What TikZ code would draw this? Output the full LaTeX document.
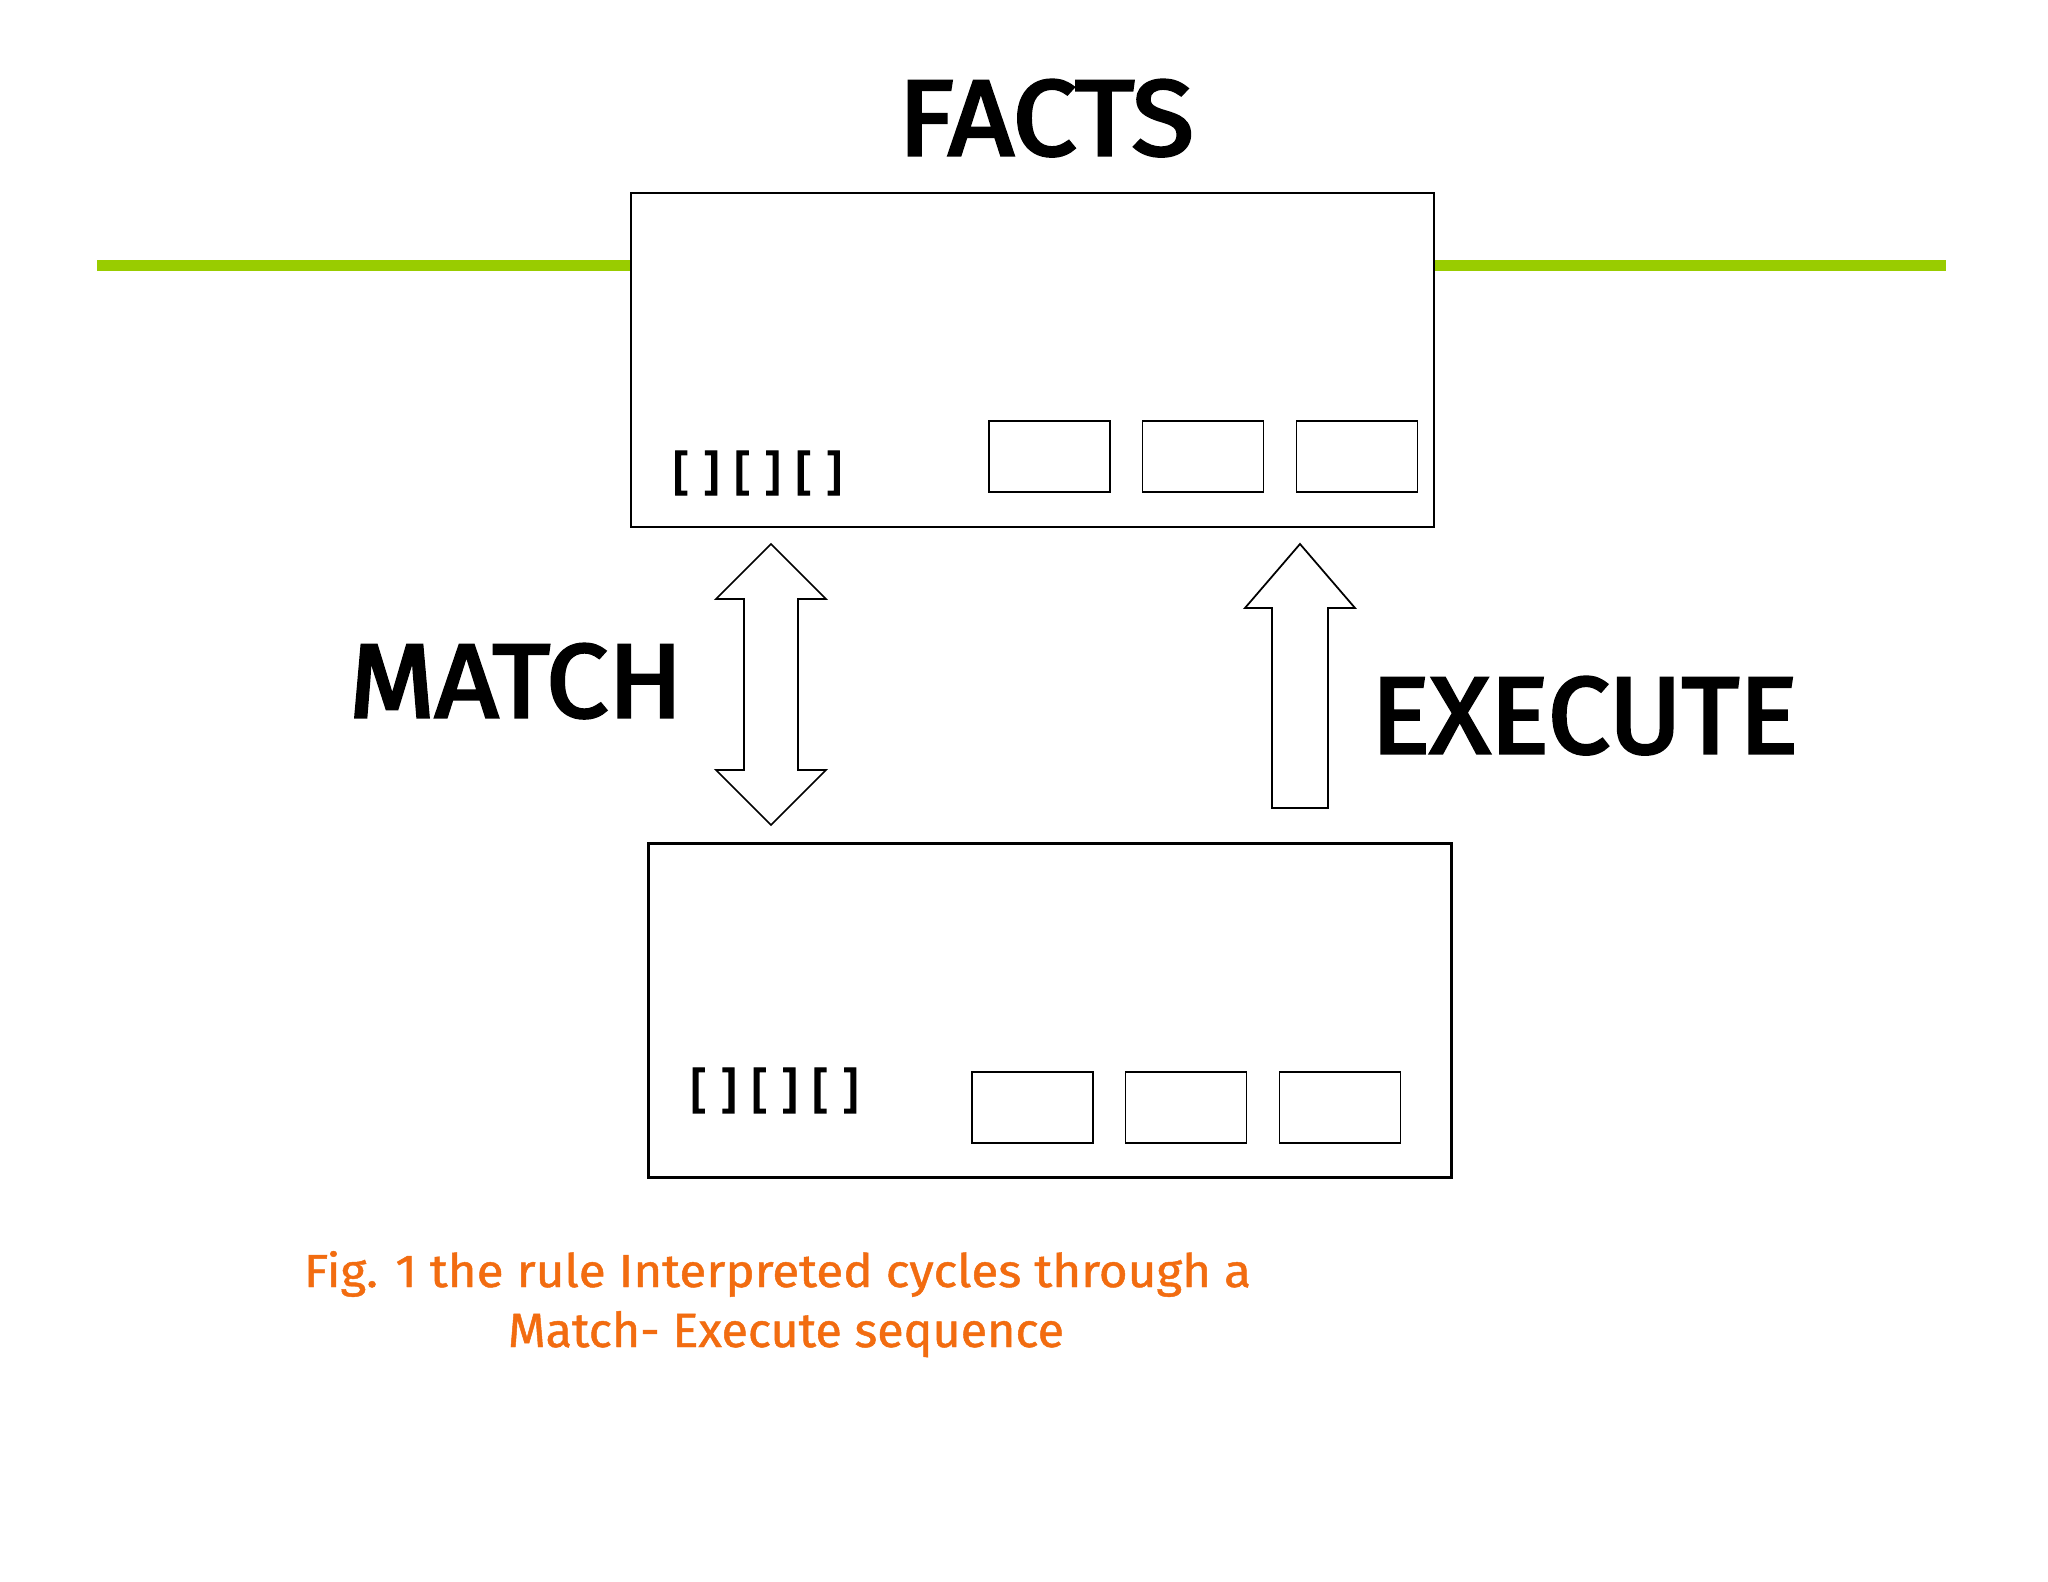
\documentclass[tikz,border=0pt]{standalone}
\usepackage{fontspec}
\setmainfont{Fira Sans}
\newfontfamily\labelfont[FakeBold=3]{Fira Sans}
\newfontfamily\captionfont[FakeBold=1]{Fira Sans}
\usetikzlibrary{calc}

\definecolor{rulegreen}{RGB}{153,204,0}
\definecolor{captionorange}{RGB}{242,108,16}

\tikzset{
  membox/.style={draw,fill=white,line width=0.6pt,inner sep=0pt,minimum width=8.03cm,minimum height=3.34cm},
  slot/.style={draw,line width=0.5pt,inner sep=0pt,minimum width=1.21cm,minimum height=0.71cm},
  blockarrow/.style={draw,fill=white,line width=0.5pt},
  biglabel/.style={inner sep=0pt,anchor=base,font=\labelfont},
  caption/.style={inner sep=0pt,anchor=base,text=captionorange,font=\captionfont}
}

\begin{document}
\begin{tikzpicture}[x=1cm,y=-1cm]
  \useasboundingbox[fill=white] (0,0) rectangle (20.48,15.82);

  \draw[rulegreen,line width=3.1pt] (0.97,2.655) -- (19.46,2.655);

  % working memory and rule memory
  \node[membox] (facts) at (10.325,3.60) {};
  \node[membox] (rules) at (10.50,10.105) {};

  \foreach \x/\n in {10.495/1,12.03/2,13.57/3}
    \node[slot] (factslot\n) at (\x,4.565) {};
  \foreach \x/\n in {10.325/1,11.86/2,13.40/3}
    \node[slot] (ruleslot\n) at (\x,11.075) {};

  \node[inner sep=0pt,font=\labelfont] (factbr) at (7.575,4.73) {\resizebox*{1.70cm}{0.44cm}{[ ] [ ] [ ]}};
  \node[inner sep=0pt,font=\labelfont] (rulebr) at (7.745,10.905) {\resizebox*{1.69cm}{0.45cm}{[ ] [ ] [ ]}};

  \node[biglabel] (factslabel) at (10.46,1.55) {\resizebox{2.96cm}{0.75cm}{FACTS}};
  \node[biglabel] (matchlabel) at (5.16,7.17) {\resizebox{3.34cm}{0.73cm}{MATCH}};
  \node[biglabel] (execlabel) at (15.845,7.53) {\resizebox{4.27cm}{0.76cm}{EXECUTE}};

  % match: both ways
  \draw[blockarrow] (7.71,5.44) -- (8.26,5.99) -- (7.98,5.99) -- (7.98,7.70) -- (8.26,7.70)
    -- (7.71,8.25) -- (7.16,7.70) -- (7.44,7.70) -- (7.44,5.99) -- (7.16,5.99) -- cycle;
  % execute: up only
  \draw[blockarrow] (13.00,5.44) -- (13.55,6.08) -- (13.28,6.08) -- (13.28,8.08)
    -- (12.72,8.08) -- (12.72,6.08) -- (12.45,6.08) -- cycle;

  \node[caption] (capline1) at (7.775,12.87) {\resizebox{9.47cm}{0.36cm}{Fig. 1 the rule Interpreted cycles through a}};
  \node[caption] (capline2) at (7.86,13.47) {\resizebox{5.56cm}{0.36cm}{Match- Execute sequence}};
\end{tikzpicture}
\end{document}
